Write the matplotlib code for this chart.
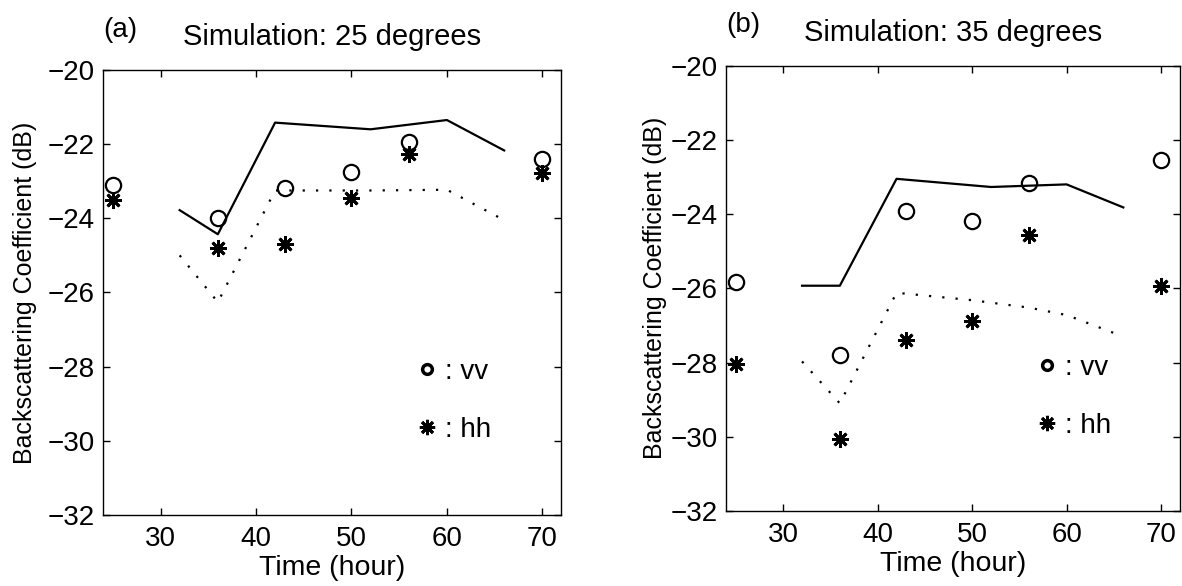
import matplotlib
matplotlib.use("Agg")
from matplotlib import pyplot as plt
from matplotlib.lines import Line2D

plt.rcParams['font.family'] = ['Liberation Sans', 'DejaVu Sans']

# measured times and backscatter (dB)
hours = [25, 36, 43, 50, 56, 70]
vv_25 = [-23.1, -24.0, -23.18, -22.75, -21.95, -22.4]
hh_25 = [-23.5, -24.79, -24.68, -23.46, -22.27, -22.77]
vv_35 = [-25.82, -27.79, -23.91, -24.19, -23.16, -22.53]
hh_35 = [-28.04, -30.05, -27.39, -26.89, -24.57, -25.94]

# simulation curves
sim_t_vv25 = [32, 36, 42, 52, 60, 66]
sim_vv25 = [-23.78, -24.43, -21.42, -21.6, -21.35, -22.17]
sim_t_hh25 = [32, 36, 42, 52, 60, 66]
sim_hh25 = [-25.0, -26.26, -23.25, -23.25, -23.23, -24.05]
sim_t_vv35 = [32, 36, 42, 52, 60, 66]
sim_vv35 = [-25.93, -25.93, -23.05, -23.27, -23.2, -23.82]
sim_t_hh35 = [32, 36, 42, 50, 56, 60, 66]
sim_hh35 = [-27.97, -29.1, -26.12, -26.32, -26.52, -26.72, -27.3]

panels = [
    ("(a)", "Simulation: 25 degrees", vv_25, hh_25, sim_t_vv25, sim_vv25, sim_t_hh25, sim_hh25),
    ("(b)", "Simulation: 35 degrees", vv_35, hh_35, sim_t_vv35, sim_vv35, sim_t_hh35, sim_hh35),
]
positions = [[0.0874, 0.1212, 0.3876, 0.7594], [0.6146, 0.128, 0.3837, 0.760]]
ylabel_pads = [8, 3]

star = (8, 2, 0)

fig = plt.figure(figsize=(11.82, 5.86), dpi=100)
for pos, lpad, (tag, title, vv, hh, tv, sv, th, sh) in zip(positions, ylabel_pads, panels):
    ax = fig.add_axes(pos)
    ax.plot(tv, sv, color='k', lw=1.6)
    ax.plot(th, sh, color='k', lw=1.6, ls=(0, (1, 5)))
    ax.plot(hours, vv, ls='none', marker='o', ms=11, mfc='none', mec='k', mew=1.6, clip_on=False)
    ax.plot(hours, hh, ls='none', marker=star, ms=12, mec='k', mew=2.0, clip_on=False)

    ax.set_xlim(24, 72)
    ax.set_ylim(-32, -20)
    ax.set_xticks([30, 40, 50, 60, 70])
    ax.set_yticks(range(-32, -19, 2))
    ax.tick_params(direction='in', top=True, right=True, length=5, width=1, labelsize=20)
    ax.tick_params(axis='x', pad=8)
    ax.tick_params(axis='y', pad=6)
    for s in ax.spines.values():
        s.set_linewidth(1.0)
    ax.set_xlabel("Time (hour)", fontsize=20.5, labelpad=2)
    ax.set_ylabel("Backscattering Coefficient (dB)", fontsize=18, labelpad=lpad)
    ax.set_title(title, fontsize=21, pad=18)
    ax.text(0.0, 1.075, tag, transform=ax.transAxes, fontsize=20, ha='left', va='baseline')

    handles = [
        Line2D([], [], ls='none', marker='o', ms=7, mfc='none', mec='k', mew=2.5),
        Line2D([], [], ls='none', marker=star, ms=11, mec='k', mew=2.0),
    ]
    ax.legend(handles, [': vv', ': hh'], loc='upper left', bbox_to_anchor=(0.66, 0.375),
              frameon=False, fontsize=20, handlelength=0.7, handletextpad=0.3,
              labelspacing=1.15, borderaxespad=0)

fig.savefig("out.png", dpi=100)
